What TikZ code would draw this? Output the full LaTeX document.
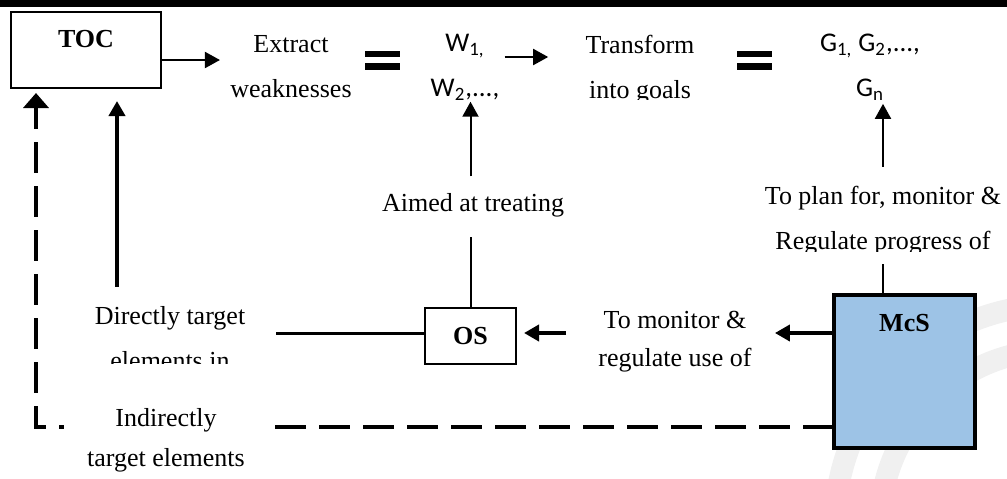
\documentclass[tikz,border=0pt]{standalone}
\usepackage{fontspec}
\setmainfont{Liberation Serif}
\newfontfamily\calibri{Carlito}
\usetikzlibrary{arrows.meta,calc}
\definecolor{mcsblue}{RGB}{157,195,230}

\begin{document}
\begin{tikzpicture}[x=0.5pt,y=-0.5pt,
  every node/.style={font=\fontsize{13}{22.5}\selectfont, inner sep=0pt},
  txt/.style={align=center},
  sans/.style={align=center, font=\fontsize{13.5}{22.5}\selectfont\calibri},
  box/.style={draw, line width=1pt, font=\fontsize{13}{15}\selectfont\bfseries},
  arr/.style={-{Triangle[length=7.5pt,width=8pt]}},
  slim/.style={line width=1pt},
  mid/.style={line width=1.5pt},
  fat/.style={line width=2pt},
  dashln/.style={line width=2pt, dash pattern=on 15.5pt off 6.5pt},
  ]
  \newcommand{\eqsign}[2]{%
    \fill (#1-17.5,#2-9.5) rectangle (#1+17.5,#2-3);
    \fill (#1-17.5,#2+3) rectangle (#1+17.5,#2+9.5);}

  \useasboundingbox (0,0) rectangle (1007,478);
  \begin{scope}
    \clip (0,0) rectangle (1007,478);
    \draw[gray!12, line width=11pt] (1055,525) circle (220);
    \draw[gray!12, line width=11pt] (1055,525) circle (175);
  \end{scope}
  \fill (0,0) rectangle (1007,7);

  \node[box, minimum width=75pt, text height=17.5pt, text depth=20.5pt] (toc) at (86,50) {TOC};
  \node[box, minimum width=45.5pt, minimum height=28pt] (os) at (470.5,336) {OS};
  \node[box, line width=2pt, fill=mcsblue, minimum width=70.5pt, text height=18pt, text depth=58.5pt] (mcs) at (904.5,371.5) {McS};

  \node[txt] (extract) at (291,67) {Extract\\weaknesses};
  \node[sans] (wlist) at (465,67) {W\textsubscript{1,}\\W\textsubscript{2},...,};
  \begin{scope}
    \clip (560,20) rectangle (720,99);
    \node[txt] (transform) at (640,70) {Transform\\into goals};
  \end{scope}
  \node[sans] (glist) at (870,67) {G\textsubscript{1,} G\textsubscript{2},...,\\G\textsubscript{n}};
  \eqsign{382.5}{60}
  \eqsign{754.5}{60}

  \node[txt] (aimed) at (473,205.5) {Aimed at treating};
  \begin{scope}
    \clip (740,170) rectangle (1007,251);
    \node[txt] (planfor) at (883,220.5) {To plan for, monitor \&\\Regulate progress of};
  \end{scope}
  \begin{scope}
    \clip (60,290) rectangle (270,363);
    \node[txt] (directly) at (170,338) {Directly target\\elements in};
  \end{scope}
  \node[txt, font=\fontsize{13}{19}\selectfont] (tomon) at (675,341.5) {To monitor \&\\regulate use of};
  \node[txt, font=\fontsize{13}{20}\selectfont] (indirect) at (166,440) {Indirectly\\target elements};

  \coordinate (tocin) at ([xshift=15.5pt]toc.south);
  \coordinate (tocout) at ([xshift=13pt]toc.south west);
  \coordinate (oslvl) at ([yshift=1.5pt]os.east);
  \coordinate (mcsdash) at ([yshift=-27.75pt]mcs.west);

  \draw[slim, arr, shorten >=5pt] ([yshift=-5pt]toc.east) -- ([yshift=-5pt]toc.east -| extract.west);
  \draw[slim, arr, shorten <=2.5pt, shorten >=18.5pt] ([yshift=5pt]wlist.east) -- ([yshift=5pt]wlist.east -| transform.west);
  \draw[slim, arr, shorten <=8.5pt, shorten >=0.5pt] (os.north |- aimed.north) -- (os.north |- wlist.south);
  \draw[slim, shorten >=9.5pt] (os.north) -- (os.north |- aimed.south);
  \draw[slim, arr, shorten <=9.5pt, shorten >=1.5pt] (planfor.north) -- (planfor.north |- glist.south);
  \draw[slim, shorten >=4.5pt] (planfor.south |- mcs.north) -- (planfor.south);
  \draw[fat, arr, shorten >=11.5pt] (mcs.west |- oslvl) -- (tomon.east |- oslvl);
  \draw[fat, arr, shorten <=16pt, shorten >=3.5pt] (tomon.west |- oslvl) -- (oslvl);
  \draw[mid, shorten >=15pt] (os.west |- oslvl) -- (directly.east |- oslvl);
  \draw[fat, arr, shorten <=9.5pt, shorten >=6pt] (tocin |- directly.north) -- (tocin);
  \draw[dashln, shorten <=15pt, shorten >=-1.5pt] (indirect.east |- mcsdash) -- (mcsdash);
  \draw[dashln, -{Triangle[length=7.5pt,width=12.5pt]}, dash phase=13pt, shorten <=11.5pt, shorten >=2pt]
    (indirect.west |- mcsdash) -| (tocout);
\end{tikzpicture}
\end{document}
